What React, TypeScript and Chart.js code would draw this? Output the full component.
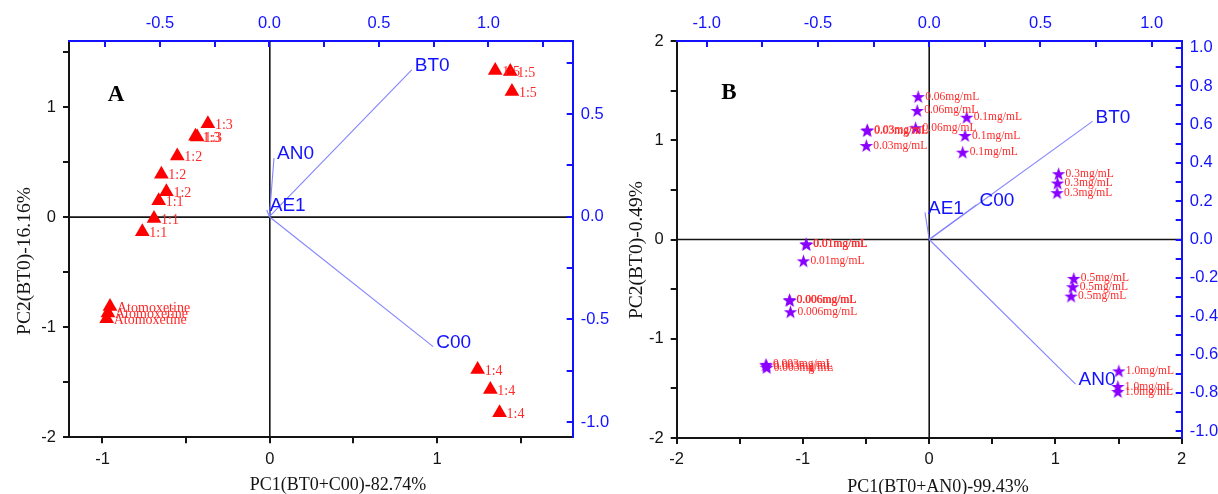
import React, { useEffect, useRef } from 'react';
import { Chart, registerables } from 'chart.js';

Chart.register(...registerables);

const PAGE_W = 1218;
const PAGE_H = 494;

const SANS = "'Liberation Sans', Arial, sans-serif";
const SERIF = "'Liberation Serif', 'Times New Roman', serif";

const INK = '#141414';
const BLUE = '#1212ff';
const VECTOR_BLUE = '#8484ff';
const RED = '#ff0000';
const LABEL_RED = '#ff2a2a';
const VIOLET = '#8a00ff';

// ---------- Panel A: sample scores ----------
const A_SAMPLE_LABELS = [
  '1:1', '1:1', '1:1',
  '1:2', '1:2', '1:2',
  '1:3', '1:3', '1:3',
  '1:4', '1:4', '1:4',
  '1:5', '1:5', '1:5',
  'Atomoxetine', 'Atomoxetine', 'Atomoxetine',
];
const A_PC1 = [
  -0.664, -0.692, -0.762,
  -0.553, -0.648, -0.618,
  -0.370, -0.444, -0.434,
  1.242, 1.318, 1.373,
  1.347, 1.437, 1.447,
  -0.955, -0.967, -0.975,
];
const A_PC2 = [
  0.149, -0.012, -0.132,
  0.556, 0.390, 0.230,
  0.848, 0.734, 0.727,
  -1.383, -1.565, -1.776,
  1.331, 1.322, 1.141,
  -0.811, -0.871, -0.922,
];

// ---------- Panel A: variable loadings ----------
const A_VARIABLES = ['BT0', 'AN0', 'AE1', 'C00'];
const A_LOAD_PC1 = [0.650, 0.021, -0.012, 0.748];
const A_LOAD_PC2 = [0.715, 0.286, 0.033, -0.633];

// ---------- Panel A: axis ticks ----------
const A_PC1_TICKS = [-1, -0.5, 0, 0.5, 1, 1.5];
const A_PC1_LABELED = [-1, 0, 1];
const A_PC2_TICKS = [-2, -1.5, -1, -0.5, 0, 0.5, 1, 1.5];
const A_PC2_LABELED = [-2, -1, 0, 1];
const A_LOAD1_TICKS = [-0.75, -0.5, -0.25, 0, 0.25, 0.5, 0.75, 1, 1.25];
const A_LOAD1_LABELED = [-0.5, 0, 0.5, 1];
const A_LOAD2_TICKS = [-1, -0.75, -0.5, -0.25, 0, 0.25, 0.5, 0.75];
const A_LOAD2_LABELED = [-1, -0.5, 0, 0.5];

// ---------- Panel B: sample scores ----------
const B_SAMPLE_LABELS = [
  '0.003mg/mL', '0.003mg/mL', '0.003mg/mL',
  '0.006mg/mL', '0.006mg/mL', '0.006mg/mL',
  '0.01mg/mL', '0.01mg/mL', '0.01mg/mL',
  '0.03mg/mL', '0.03mg/mL', '0.03mg/mL',
  '0.06mg/mL', '0.06mg/mL', '0.06mg/mL',
  '0.1mg/mL', '0.1mg/mL', '0.1mg/mL',
  '0.3mg/mL', '0.3mg/mL', '0.3mg/mL',
  '0.5mg/mL', '0.5mg/mL', '0.5mg/mL',
  '1.0mg/mL', '1.0mg/mL', '1.0mg/mL',
];
const B_PC1 = [
  -1.293, -1.290, -1.287,
  -1.107, -1.104, -1.099,
  -0.975, -0.972, -0.996,
  -0.493, -0.489, -0.498,
  -0.087, -0.095, -0.108,
  0.297, 0.284, 0.265,
  1.025, 1.017, 1.013,
  1.145, 1.137, 1.124,
  1.502, 1.494, 1.494,
];
const B_PC2 = [
  -1.258, -1.272, -1.290,
  -0.606, -0.614, -0.728,
  -0.043, -0.050, -0.215,
  1.098, 1.104, 0.947,
  1.440, 1.300, 1.126,
  1.232, 1.048, 0.880,
  0.663, 0.569, 0.472,
  -0.392, -0.476, -0.570,
  -1.324, -1.481, -1.532,
];

// ---------- Panel B: variable loadings ----------
const B_VARIABLES = ['BT0', 'C00', 'AE1', 'AN0'];
const B_LOAD_PC1 = [0.734, 0.213, -0.019, 0.658];
const B_LOAD_PC2 = [0.616, 0.182, 0.141, -0.754];

// ---------- Panel B: axis ticks ----------
const B_PC_TICKS = [-2, -1.5, -1, -0.5, 0, 0.5, 1, 1.5, 2];
const B_PC_LABELED = [-2, -1, 0, 1, 2];
const B_LOAD1_TICKS = [-1, -0.75, -0.5, -0.25, 0, 0.25, 0.5, 0.75, 1];
const B_LOAD1_LABELED = [-1, -0.5, 0, 0.5, 1];
const B_LOAD2_TICKS = [-1, -0.9, -0.8, -0.7, -0.6, -0.5, -0.4, -0.3, -0.2, -0.1, 0, 0.1, 0.2, 0.3, 0.4, 0.5, 0.6, 0.7, 0.8, 0.9, 1];
const B_LOAD2_LABELED = [-1, -0.8, -0.6, -0.4, -0.2, 0, 0.2, 0.4, 0.6, 0.8, 1];

const near = (a: number, b: number) => Math.abs(a - b) < 1e-9;

function makeStar(size: number, color: string): HTMLCanvasElement {
  const c = document.createElement('canvas');
  c.width = size;
  c.height = size;
  const g = c.getContext('2d')!;
  const R = size / 2 - 0.4;
  const r = R * 0.4;
  const cx = size / 2;
  const cy = size / 2 + (R - R * 0.809) / 2;
  g.beginPath();
  for (let i = 0; i < 10; i++) {
    const rad = i % 2 === 0 ? R : r;
    const a = -Math.PI / 2 + (i * Math.PI) / 5;
    const px = cx + Math.cos(a) * rad;
    const py = cy + Math.sin(a) * rad;
    if (i === 0) g.moveTo(px, py);
    else g.lineTo(px, py);
  }
  g.closePath();
  g.fillStyle = color;
  g.fill();
  return c;
}

type ScaleOpts = {
  position: 'bottom' | 'left' | 'top' | 'right';
  min: number;
  max: number;
  ticks: number[];
  labeled: number[];
  digits: number;
  color: string;
  padding: number;
  outward: boolean;
  boxSize: number;
};

function makeScale(o: ScaleOpts) {
  const horizontal = o.position === 'bottom' || o.position === 'top';
  return {
    type: 'linear',
    position: o.position,
    min: o.min,
    max: o.max,
    afterBuildTicks: (s: any) => {
      s.ticks = o.ticks.map((v) => ({ value: v }));
    },
    afterFit: (s: any) => {
      if (horizontal) s.height = o.boxSize;
      else s.width = o.boxSize;
    },
    ticks: {
      autoSkip: false,
      maxRotation: 0,
      minRotation: 0,
      padding: o.padding,
      color: o.color,
      font: { family: SANS, size: 16.5 },
      callback: (v: number) =>
        o.labeled.some((l) => near(l, v))
          ? o.digits
            ? v.toFixed(o.digits)
            : String(Math.round(v))
          : '',
    },
    grid: o.outward
      ? { display: true, drawOnChartArea: false, drawTicks: true, tickLength: 6, color: o.color, lineWidth: 2 }
      : { display: false, drawTicks: false },
    border: { display: true, color: o.color, width: 2 },
  };
}

type PanelSpec = {
  width: number;
  box: { left: number; right: number; top: number; bottom: number };
  labels: string[];
  pc1: number[];
  pc2: number[];
  variables: string[];
  load1: number[];
  load2: number[];
  xRange: [number, number];
  yRange: [number, number];
  x2Range: [number, number];
  y2Range: [number, number];
  xTicks: number[];
  xLabeled: number[];
  yTicks: number[];
  yLabeled: number[];
  x2Ticks: number[];
  x2Labeled: number[];
  y2Ticks: number[];
  y2Labeled: number[];
  marker: 'triangle' | 'star';
  markerRadius: number;
  labelFont: string;
  labelDx: number;
  labelDy: number;
  letter: string;
  letterPos: [number, number];
  xTitle: string;
  xTitlePos: [number, number];
  yTitle: string;
  yTitlePos: [number, number];
};

function buildConfig(p: PanelSpec): any {
  const points = p.pc1.map((x, i) => ({ x, y: p.pc2[i] }));
  const star = p.marker === 'star' ? makeStar(15, VIOLET) : null;

  const vectorSets = p.variables.map((name, i) => ({
    label: name,
    showLine: true,
    data: [
      { x: 0, y: 0 },
      { x: p.load1[i], y: p.load2[i] },
    ],
    xAxisID: 'x2',
    yAxisID: 'y2',
    borderColor: VECTOR_BLUE,
    borderWidth: 1.1,
    pointRadius: 0,
    order: 2,
  }));

  const decor = {
    id: 'biplotDecor',
    beforeDatasetsDraw(chart: any) {
      const { ctx, chartArea: a, scales } = chart;
      const x0 = scales.x.getPixelForValue(0);
      const y0 = scales.y.getPixelForValue(0);
      ctx.save();
      ctx.strokeStyle = INK;
      ctx.lineWidth = 1.6;
      ctx.beginPath();
      ctx.moveTo(a.left, y0);
      ctx.lineTo(a.right, y0);
      ctx.moveTo(x0, a.top);
      ctx.lineTo(x0, a.bottom);
      ctx.stroke();
      ctx.restore();
    },
    afterDraw(chart: any) {
      const { ctx, chartArea: a, scales } = chart;
      ctx.save();

      // inward ticks on the loading axes (top and right)
      ctx.strokeStyle = BLUE;
      ctx.lineWidth = 2;
      ctx.beginPath();
      for (const t of scales.x2.ticks) {
        const px = Math.round(scales.x2.getPixelForValue(t.value));
        ctx.moveTo(px, a.top);
        ctx.lineTo(px, a.top + 6);
      }
      for (const t of scales.y2.ticks) {
        const py = Math.round(scales.y2.getPixelForValue(t.value));
        ctx.moveTo(a.right - 6, py);
        ctx.lineTo(a.right, py);
      }
      ctx.stroke();

      // sample labels
      const meta = chart.getDatasetMeta(0);
      ctx.font = p.labelFont;
      ctx.fillStyle = LABEL_RED;
      ctx.textAlign = 'left';
      ctx.textBaseline = 'middle';
      meta.data.forEach((el: any, i: number) => {
        ctx.fillText(p.labels[i], el.x + p.labelDx, el.y + p.labelDy);
      });

      // loading vector labels
      ctx.font = `19px ${SANS}`;
      ctx.fillStyle = BLUE;
      p.variables.forEach((name, i) => {
        const end = chart.getDatasetMeta(i + 1).data[1];
        ctx.fillText(name, end.x + 3, end.y - 4);
      });

      // panel letter
      ctx.font = `bold 23px ${SERIF}`;
      ctx.fillStyle = '#000';
      ctx.textAlign = 'center';
      ctx.fillText(p.letter, p.letterPos[0], p.letterPos[1]);

      // axis titles
      ctx.fillStyle = INK;
      ctx.font = `18px ${SERIF}`;
      ctx.fillText(p.xTitle, p.xTitlePos[0], p.xTitlePos[1]);
      ctx.translate(p.yTitlePos[0], p.yTitlePos[1]);
      ctx.rotate(-Math.PI / 2);
      ctx.font = `19.5px ${SERIF}`;
      ctx.fillText(p.yTitle, 0, 0);

      ctx.restore();
    },
  };

  return {
    type: 'scatter',
    data: {
      datasets: [
        {
          label: 'samples',
          data: points,
          xAxisID: 'x',
          yAxisID: 'y',
          pointStyle: star ?? 'triangle',
          pointRadius: p.markerRadius,
          backgroundColor: RED,
          borderWidth: 0,
          order: 1,
        },
        ...vectorSets,
      ],
    },
    options: {
      responsive: false,
      animation: false,
      events: [],
      layout: { padding: 0 },
      plugins: { legend: { display: false }, tooltip: { enabled: false } },
      scales: {
        x: makeScale({
          position: 'bottom', min: p.xRange[0], max: p.xRange[1], ticks: p.xTicks, labeled: p.xLabeled,
          digits: 0, color: INK, padding: 6, outward: true, boxSize: p.box.bottom,
        }),
        y: makeScale({
          position: 'left', min: p.yRange[0], max: p.yRange[1], ticks: p.yTicks, labeled: p.yLabeled,
          digits: 0, color: INK, padding: 7, outward: true, boxSize: p.box.left,
        }),
        x2: makeScale({
          position: 'top', min: p.x2Range[0], max: p.x2Range[1], ticks: p.x2Ticks, labeled: p.x2Labeled,
          digits: 1, color: BLUE, padding: 8, outward: false, boxSize: p.box.top,
        }),
        y2: makeScale({
          position: 'right', min: p.y2Range[0], max: p.y2Range[1], ticks: p.y2Ticks, labeled: p.y2Labeled,
          digits: 1, color: BLUE, padding: 8, outward: false, boxSize: p.box.right,
        }),
      },
    },
    plugins: [decor],
  };
}

const PANEL_A: PanelSpec = {
  width: 612,
  box: { left: 69, right: 39.3, top: 41, bottom: 56.7 },
  labels: A_SAMPLE_LABELS,
  pc1: A_PC1,
  pc2: A_PC2,
  variables: A_VARIABLES,
  load1: A_LOAD_PC1,
  load2: A_LOAD_PC2,
  xRange: [-1.2, 1.81],
  yRange: [-2, 1.6],
  x2Range: [-0.915, 1.385],
  y2Range: [-1.0745, 0.856],
  xTicks: A_PC1_TICKS,
  xLabeled: A_PC1_LABELED,
  yTicks: A_PC2_TICKS,
  yLabeled: A_PC2_LABELED,
  x2Ticks: A_LOAD1_TICKS,
  x2Labeled: A_LOAD1_LABELED,
  y2Ticks: A_LOAD2_TICKS,
  y2Labeled: A_LOAD2_LABELED,
  marker: 'triangle',
  markerRadius: 8.5,
  labelFont: `14px ${SERIF}`,
  labelDx: 7,
  labelDy: 1.5,
  letter: 'A',
  letterPos: [116, 95],
  xTitle: 'PC1(BT0+C00)-82.74%',
  xTitlePos: [338, 485],
  yTitle: 'PC2(BT0)-16.16%',
  yTitlePos: [25, 261],
};

const PANEL_B: PanelSpec = {
  width: 606,
  box: { left: 64.7, right: 36.3, top: 41, bottom: 56 },
  labels: B_SAMPLE_LABELS,
  pc1: B_PC1,
  pc2: B_PC2,
  variables: B_VARIABLES,
  load1: B_LOAD_PC1,
  load2: B_LOAD_PC2,
  xRange: [-2, 2],
  yRange: [-2, 2],
  x2Range: [-1.135, 1.135],
  y2Range: [-1.035, 1.035],
  xTicks: B_PC_TICKS,
  xLabeled: B_PC_LABELED,
  yTicks: B_PC_TICKS,
  yLabeled: B_PC_LABELED,
  x2Ticks: B_LOAD1_TICKS,
  x2Labeled: B_LOAD1_LABELED,
  y2Ticks: B_LOAD2_TICKS,
  y2Labeled: B_LOAD2_LABELED,
  marker: 'star',
  markerRadius: 7,
  labelFont: `11.5px ${SERIF}`,
  labelDx: 7,
  labelDy: 0,
  letter: 'B',
  letterPos: [117, 93],
  xTitle: 'PC1(BT0+AN0)-99.43%',
  xTitlePos: [326, 487],
  yTitle: 'PC2(BT0)-0.49%',
  yTitlePos: [25, 250],
};

function Panel({ spec, left }: { spec: PanelSpec; left: number }) {
  const ref = useRef<HTMLCanvasElement>(null);
  useEffect(() => {
    const chart = new Chart(ref.current!, buildConfig(spec));
    return () => chart.destroy();
  }, [spec]);
  return (
    <canvas
      ref={ref}
      width={spec.width}
      height={PAGE_H}
      style={{ position: 'absolute', left, top: 0, width: spec.width, height: PAGE_H }}
    />
  );
}

export default function App() {
  return (
    <div
      style={{
        position: 'fixed',
        left: 0,
        top: 0,
        width: PAGE_W,
        height: PAGE_H,
        background: '#fff',
        overflow: 'hidden',
      }}
    >
      <Panel spec={PANEL_A} left={0} />
      <Panel spec={PANEL_B} left={612} />
    </div>
  );
}
